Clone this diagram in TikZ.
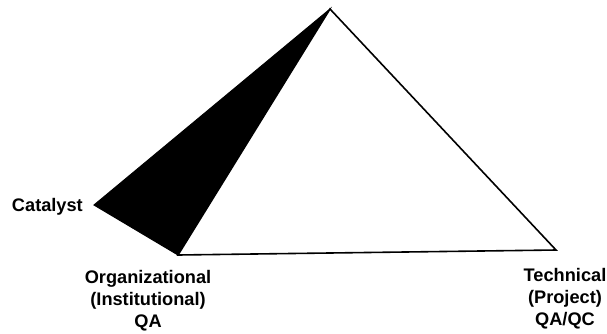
\documentclass[tikz,border=0pt]{standalone}
\usepackage{fontspec}
\setmainfont{Liberation Sans}
\usetikzlibrary{positioning}
\definecolor{ink}{HTML}{000000}
\tikzset{
  % ---- faces -----------------------------------------------------
  face/.style     = {draw=ink, line width=1.6pt, line join=miter, fill=white},
  shade/.style    = {draw=ink, line width=1pt, line join=miter, fill=ink},
  % ---- labels ----------------------------------------------------
  lbl/.style      = {font=\fontsize{18.2}{22}\selectfont\bfseries, text=ink,
                     inner sep=0pt, align=center},
}
\begin{document}
\begin{tikzpicture}[x=1pt, y=-1pt]
\useasboundingbox (0,0) rectangle (607,333);
\coordinate (apex) at (330,9);
\coordinate (cat) at (94,205);
\coordinate (org) at (178,255);
\coordinate (tech) at (556,250);
\fill[shade] (cat) -- (apex) -- (org) -- cycle;
\draw[face] (apex) -- (org) -- (tech) -- cycle;
\node[lbl, anchor=base east] (catlab) at (83,211) {Catalyst};
\node[lbl, anchor=north] (orglab) at (148,270) {Organizational\\(Institutional)\\QA};
\node[lbl, anchor=north] (techlab) at (565,268) {Technical\\(Project)\\QA/QC};
\end{tikzpicture}
\end{document}
